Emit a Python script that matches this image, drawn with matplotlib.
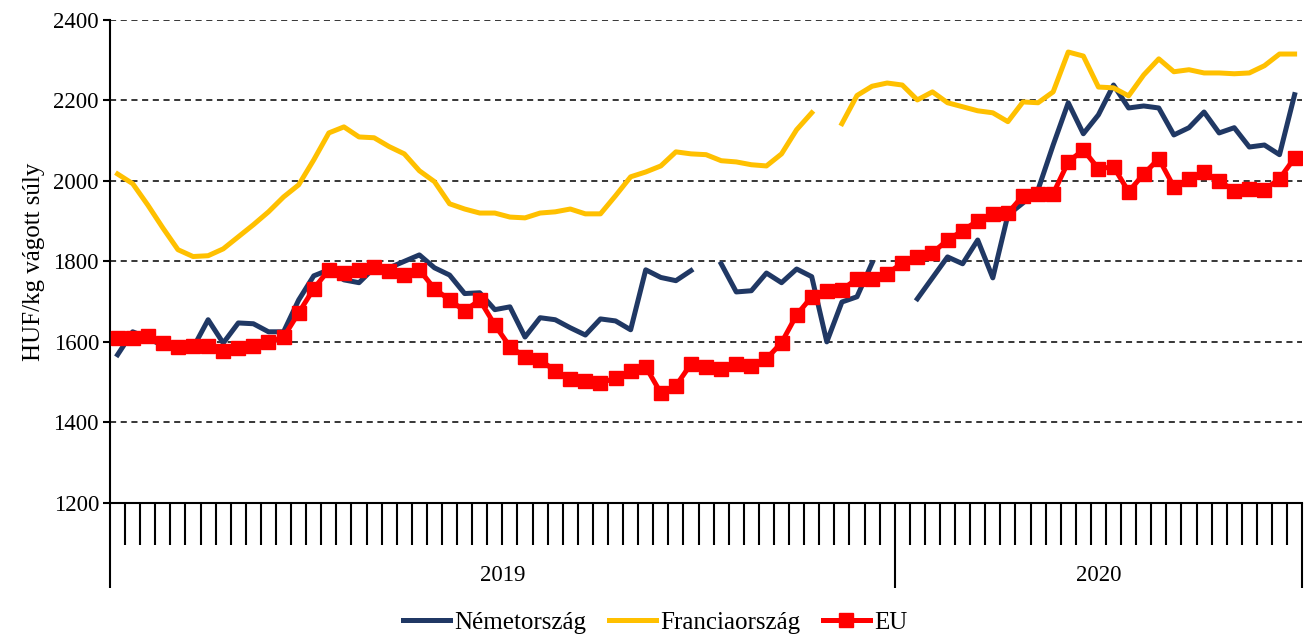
import numpy as np
import matplotlib
matplotlib.use("Agg")
import matplotlib.pyplot as plt

plt.rcParams["font.family"] = ["Liberation Serif", "DejaVu Serif"]

YEARS = ["2019", "2020"]
WEEKS_PER_YEAR = [52, 27]

GERMANY = [1568, 1625, 1610, 1590, 1580, 1585, 1655, 1597, 1647, 1645,
           1625, 1625, 1704, 1764, 1779, 1754, 1747, 1784, 1784, 1800,
           1816, 1784, 1766, 1720, 1722, 1680, 1687, 1612, 1660, 1655,
           1635, 1617, 1657, 1652, 1630, 1779, 1760, 1752, 1777, np.nan,
           1794, 1724, 1727, 1771, 1747, 1781, 1762, 1600, 1699, 1712,
           1796, np.nan, np.nan, 1707, 1759, 1811, 1794, 1853, 1759, 1915,
           1945, 1978, 2089, 2194, 2117, 2164, 2238, 2181, 2186, 2181,
           2114, 2132, 2171, 2119, 2132, 2084, 2089, 2065, 2214]

FRANCE = [2017, 1993, 1940, 1883, 1829, 1812, 1814, 1831, 1861, 1891,
          1923, 1960, 1990, 2052, 2119, 2134, 2109, 2107, 2085, 2067,
          2025, 1998, 1943, 1930, 1920, 1920, 1910, 1908, 1920, 1923,
          1930, 1918, 1918, 1963, 2010, 2022, 2037, 2072, 2067, 2065,
          2050, 2047, 2040, 2037, 2067, 2127, 2169, np.nan, 2142, 2212,
          2235, 2243, 2238, 2201, 2221, 2194, 2184, 2174, 2169, 2147,
          2196, 2194, 2221, 2320, 2310, 2233, 2231, 2211, 2263, 2303,
          2271, 2276, 2268, 2268, 2266, 2268, 2286, 2315, 2315]

EU = [1610, 1610, 1615, 1598, 1588, 1590, 1590, 1578, 1585, 1590,
      1600, 1612, 1672, 1732, 1779, 1771, 1779, 1786, 1776, 1766,
      1779, 1732, 1704, 1677, 1704, 1642, 1588, 1563, 1555, 1528,
      1508, 1503, 1498, 1510, 1528, 1538, 1473, 1491, 1545, 1538,
      1533, 1545, 1540, 1558, 1598, 1667, 1712, 1727, 1729, 1757,
      1757, 1769, 1796, 1811, 1821, 1853, 1876, 1901, 1918, 1920,
      1963, 1968, 1968, 2047, 2077, 2030, 2035, 1973, 2017, 2055,
      1985, 2004, 2021, 2000, 1975, 1980, 1978, 2005, 2057]

SERIES = [("Németország", GERMANY, "#203864"),
          ("Franciaország", FRANCE, "#FFC000"),
          ("EU", EU, "#FF0000")]

FS = 16.5

fig = plt.figure(figsize=(13.1, 6.39), dpi=100)
ax = fig.add_axes([0.084, 0.213, 0.91, 0.756])

n = sum(WEEKS_PER_YEAR)
x = np.arange(n)
for name, vals, color in SERIES:
    if name == "EU":
        ax.plot(x, vals, color=color, lw=3.6, marker="s", ms=10, label=name, zorder=4)
    else:
        ax.plot(x, vals, color=color, lw=3.6, label=name, zorder=3)

ax.set_xlim(-0.5, n - 0.5)
ax.set_ylim(1200, 2400)
ax.set_yticks(range(1200, 2401, 200))
ax.yaxis.grid(True, color="black", ls=(0, (4, 3)), lw=1.1)
ax.set_axisbelow(True)
ax.tick_params(axis="y", labelsize=FS, direction="out", length=5, width=1.5, pad=3)
ax.set_ylabel("HUF/kg vágott súly", fontsize=18, labelpad=6)

# x axis: week boundaries as short ticks, year boundaries as long ticks
bounds = np.cumsum([0] + WEEKS_PER_YEAR) - 0.5
ax.set_xticks(bounds)
ax.set_xticklabels([])
ax.set_xticks(np.arange(n + 1) - 0.5, minor=True)
ax.tick_params(axis="x", which="major", direction="out", length=61, width=1.5)
ax.tick_params(axis="x", which="minor", direction="out", length=30, width=1.5)
for i, yr in enumerate(YEARS):
    mid = (bounds[i] + bounds[i + 1]) / 2
    ax.annotate(yr, (mid, 0), xycoords=("data", "axes fraction"),
                xytext=(0, -52), textcoords="offset points",
                ha="center", va="center", fontsize=FS)

for side in ["top", "right"]:
    ax.spines[side].set_visible(False)
ax.spines["left"].set_linewidth(1.5)
ax.spines["bottom"].set_linewidth(1.5)

fig.legend(loc="center", bbox_to_anchor=(0.5, 0.026), ncol=3, frameon=False,
           fontsize=18, handlelength=1.9, columnspacing=0.9, handletextpad=0.15)

fig.savefig("out.png", dpi=100)
